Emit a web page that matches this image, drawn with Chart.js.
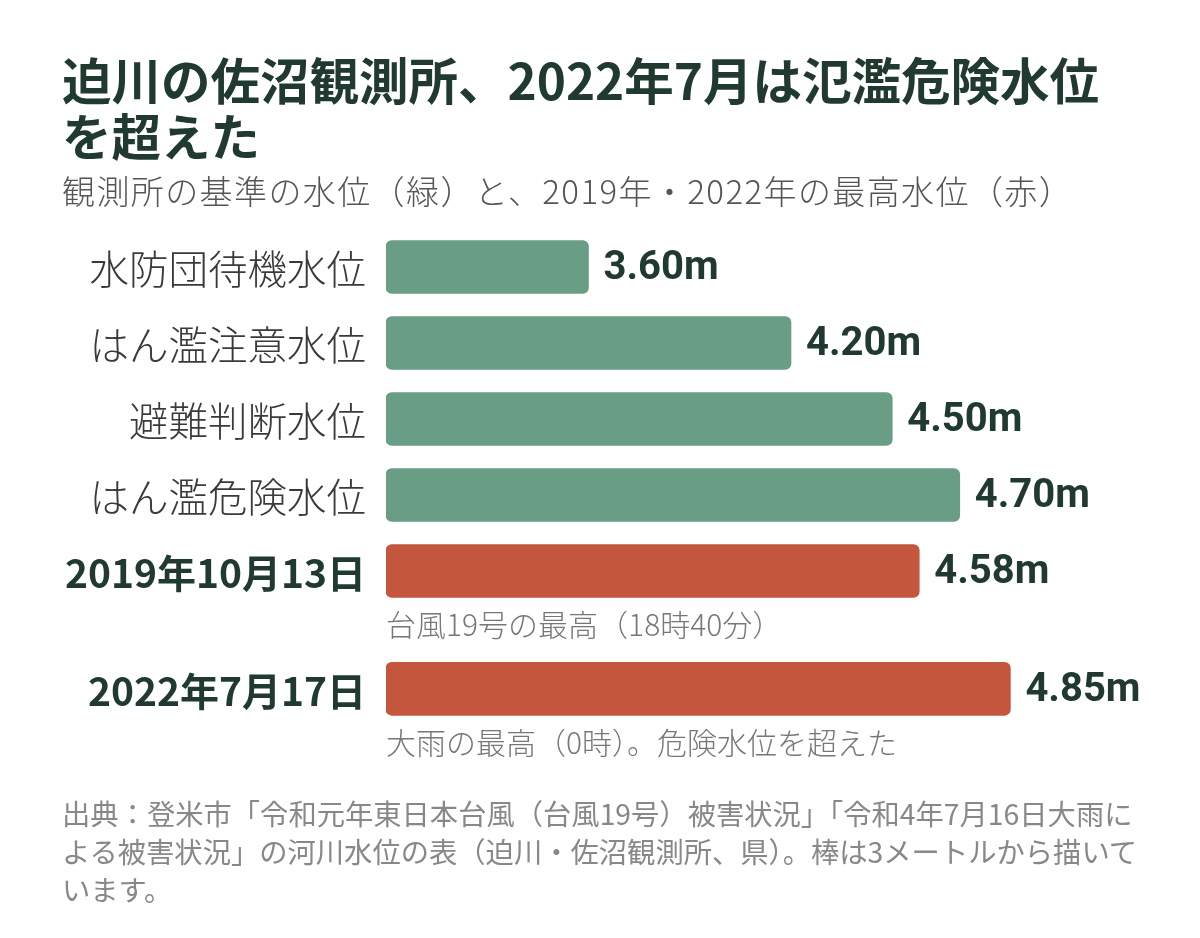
<!DOCTYPE html>
<html lang="ja">
<head>
<meta charset="utf-8">
<script src="https://cdn.jsdelivr.net/npm/chart.js@4"></script>
<style>
  html, body { margin: 0; padding: 0; background: #fff; }
  body { width: 1200px; height: 938px; position: relative; overflow: hidden; font-family: "Noto Sans CJK JP", "Noto Sans", sans-serif; }
  #chart { position: absolute; left: 0; top: 0; }
  .title { position: absolute; left: 62px; top: 51px; font-size: 49.5px; font-weight: 700; line-height: 56px; color: #213a30; white-space: nowrap; }
  .subtitle { position: absolute; left: 62px; top: 170px; font-size: 33px; font-weight: 300; letter-spacing: 1.4px; line-height: 40px; color: #555; white-space: nowrap; }
  .source { position: absolute; left: 62px; top: 794px; font-size: 28.3px; line-height: 38px; color: #888; white-space: nowrap; }
</style>
</head>
<body>
<canvas id="chart" width="1200" height="938"></canvas>
<div class="title">迫川の佐沼観測所、2022年7月は氾濫危険水位<br>を超えた</div>
<div class="subtitle">観測所の基準の水位（緑）と、2019年・2022年の最高水位（赤）</div>
<div class="source">出典：登米市「令和元年東日本台風（台風19号）被害状況」「令和4年7月16日大雨に<br>よる被害状況」の河川水位の表（迫川・佐沼観測所、県）。棒は3メートルから描いて<br>います。</div>
<script>
// ---- data ----
const standardLabels = ["水防団待機水位", "はん濫注意水位", "避難判断水位", "はん濫危険水位"];
const standardValues = [3.60, 4.20, 4.50, 4.70];
const recordLabels = ["2019年10月13日", "2022年7月17日"];
const recordValues = [4.58, 4.85];
const recordNotes = ["台風19号の最高（18時40分）", "大雨の最高（0時）。危険水位を超えた"];
const axisMin = 3;   // bars drawn from 3 m
const axisMax = 5.4;

// ---- layout helpers (row index on linear y axis) ----
const noteGap = 0.55;
const standardRows = standardLabels.map((_, i) => i);
const recordRows = recordLabels.map((_, j) => standardLabels.length + j * (1 + noteGap));

const GREEN = "#6a9d85";
const RED = "#c4563e";
const DARK = "#213a30";

const labelPlugin = {
  id: "labels",
  afterDatasetsDraw(chart) {
    const ctx = chart.ctx;
    const area = chart.chartArea;
    ctx.save();
    chart.data.datasets.forEach((ds, di) => {
      const meta = chart.getDatasetMeta(di);
      meta.data.forEach((bar, i) => {
        ctx.textBaseline = "middle";
        ctx.textAlign = "right";
        if (ds.kind === "record") {
          ctx.font = '700 39px "Noto Sans CJK JP"';
          ctx.fillStyle = DARK;
        } else {
          ctx.font = '300 39.5px "Noto Sans CJK JP"';
          ctx.fillStyle = "#3a3a3a";
        }
        ctx.fillText(ds.rowLabels[i], area.left - 20, bar.y + 2);
        ctx.textAlign = "left";
        ctx.font = '700 40px Roboto';
        ctx.fillStyle = DARK;
        ctx.fillText(ds.data[i].x.toFixed(2) + "m", bar.x + 15, bar.y + 2);
        if (ds.notes) {
          ctx.font = '300 30px "Noto Sans CJK JP"';
          ctx.fillStyle = "#777";
          ctx.fillText(ds.notes[i], area.left, bar.y + 54);
        }
      });
    });
    ctx.restore();
  }
};

new Chart(document.getElementById("chart"), {
  type: "bar",
  data: {
    datasets: [
      {
        kind: "standard",
        rowLabels: standardLabels,
        data: standardValues.map((v, i) => ({ x: v, y: standardRows[i] })),
        backgroundColor: GREEN
      },
      {
        kind: "record",
        rowLabels: recordLabels,
        notes: recordNotes,
        data: recordValues.map((v, i) => ({ x: v, y: recordRows[i] })),
        backgroundColor: RED
      }
    ]
  },
  options: {
    indexAxis: "y",
    responsive: false,
    animation: false,
    layout: { padding: { left: 386, right: 4, top: 229, bottom: 177 } },
    datasets: { bar: { grouped: false, barThickness: 53, borderRadius: 6, borderSkipped: false, base: axisMin } },
    scales: {
      x: { type: "linear", min: axisMin, max: axisMax, display: false },
      y: { type: "linear", min: -0.5, max: 6.5, reverse: true, offset: false, display: false }
    },
    plugins: { legend: { display: false }, tooltip: { enabled: false }, title: { display: false } }
  },
  plugins: [labelPlugin]
});
</script>
</body>
</html>
